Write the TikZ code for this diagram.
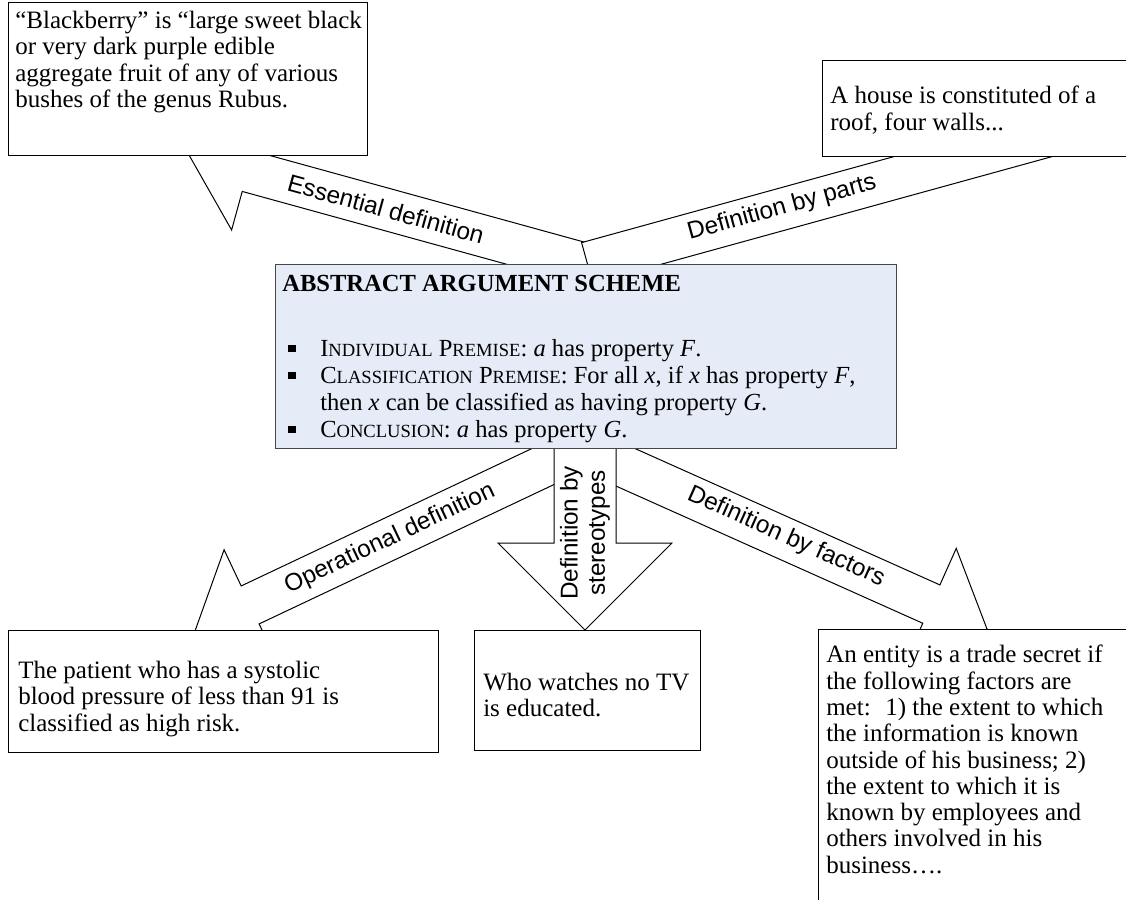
\documentclass[tikz,border=0pt]{standalone}
\usepackage{fontspec}
\setmainfont{Liberation Serif}
\setsansfont{Liberation Sans}
\usetikzlibrary{positioning,calc}

\newlength{\pxu}
\setlength{\pxu}{0.7pt}
\definecolor{schemefill}{RGB}{229,235,247}
\definecolor{schemeline}{RGB}{70,70,70}
\newcommand{\smc}[1]{{\fontsize{13}{13}\selectfont #1}}
\newcommand{\sqbullet}{\makebox[38\pxu][l]{\hspace{6\pxu}\rule[0.17em]{0.3em}{0.3em}}}

\tikzset{
  box/.style={draw, line width=0.9pt, fill=white, rectangle, anchor=north west, inner sep=0pt},
  boxtext/.style={align=left, inner sep=0pt, font=\fontsize{17.5}{18.4}\selectfont},
  blockarrow/.style={draw, line width=0.7pt, fill=white, line join=miter},
  arrowlabel/.style={font=\sffamily\fontsize{17}{19}\selectfont, inner sep=0pt, align=center},
}

\begin{document}
\begin{tikzpicture}[x=\pxu, y=-\pxu]
    \useasboundingbox (0,0) rectangle (1126,900);
    \clip (0,0) rectangle (1126,900);
    \fill[white] (0,0) rectangle (1126,900);

    % Upper arrows
    \begin{scope}[shift={(189,155)}, rotate=-15.4]
        \draw[blockarrow] (0,0) -- (61,61) -- (61,21) -- (420,21) -- (420,-21) -- (61,-21) -- (61,-61) -- cycle;
    \end{scope}
    \begin{scope}[shift={(1262,77)}, rotate=195.4]
        \draw[blockarrow] (0,0) -- (61,61) -- (61,21) -- (700,21) -- (700,-21) -- (61,-21) -- (61,-61) -- cycle;
    \end{scope}

    % Lower arrows
    \begin{scope}[shift={(195,631)}, rotate=25.3]
        \draw[blockarrow] (0,0) -- (61,61) -- (61,21) -- (430,21) -- (430,-21) -- (61,-21) -- (61,-61) -- cycle;
    \end{scope}
    \begin{scope}[shift={(987,629)}, rotate=155.9]
        \draw[blockarrow] (0,0) -- (61,61) -- (61,21) -- (430,21) -- (430,-21) -- (61,-21) -- (61,-61) -- cycle;
    \end{scope}
    \begin{scope}[shift={(585,630)}, rotate=90]
        \draw[blockarrow] (0,0) -- (87,87) -- (87,31) -- (192,31) -- (192,-31) -- (87,-31) -- (87,-87) -- cycle;
    \end{scope}

    % Arrow labels
    \node[arrowlabel, rotate=-15.4] (essential) at (386,209) {Essential definition};
    \node[arrowlabel, rotate=15.4] (parts) at (782,208) {Definition by parts};
    \node[arrowlabel, rotate=25.3] (operational) at (390,539) {Operational definition};
    \node[arrowlabel, rotate=-24.1] (factors) at (786,537) {Definition by factors};
    \node[arrowlabel, rotate=90] (stereotypes) at (585,533) {Definition by\\stereotypes};

    % Boxes
    \node[box, minimum width=359\pxu, minimum height=153\pxu] (blackberry) at (8,2) {};
    \node[boxtext, below right=9\pxu and 7\pxu of blackberry.north west] (blackberrytext)
        {“Blackberry” is “large sweet black\\or very dark purple edible\\aggregate fruit of any of various\\bushes of the genus Rubus.};

    \node[box, minimum width=310\pxu, minimum height=96\pxu] (house) at (822,60) {};
    \node[boxtext, below right=26\pxu and 8\pxu of house.north west] (housetext)
        {A house is constituted of a\\roof, four walls...};

    \node[box, draw=schemeline, fill=schemefill, minimum width=621\pxu, minimum height=184\pxu] (scheme) at (275,264) {};
    \node[boxtext, font=\fontsize{17.2}{18.9}\selectfont, below right=11\pxu and 7\pxu of scheme.north west] (schemetext)
        {\textbf{ABSTRACT ARGUMENT SCHEME}\\[38\pxu]
         \sqbullet I\smc{NDIVIDUAL} P\smc{REMISE}: \textit{a} has property \textit{F}.\\
         \sqbullet C\smc{LASSIFICATION} P\smc{REMISE}: For all \textit{x}, if \textit{x} has property \textit{F},\\
         \hspace*{38\pxu}then \textit{x} can be classified as having property \textit{G}.\\
         \sqbullet C\smc{ONCLUSION}: \textit{a} has property \textit{G}.};

    \node[box, minimum width=430\pxu, minimum height=122\pxu] (patient) at (8,630) {};
    \node[boxtext, below right=31\pxu and 10\pxu of patient.north west] (patienttext)
        {The patient who has a systolic\\blood pressure of less than 91 is\\classified as high risk.};

    \node[box, minimum width=226\pxu, minimum height=120\pxu] (tv) at (474,630) {};
    \node[boxtext, below right=43\pxu and 9\pxu of tv.north west] (tvtext)
        {Who watches no TV\\is educated.};

    \node[box, minimum width=320\pxu, minimum height=290\pxu] (secret) at (818,629) {};
    \node[boxtext, below right=16\pxu and 8\pxu of secret.north west] (secrettext)
        {An entity is a trade secret if\\the following factors are\\met: \ 1) the extent to which\\the information is known\\outside of his business; 2)\\the extent to which it is\\known by employees and\\others involved in his\\business….};
\end{tikzpicture}
\end{document}
